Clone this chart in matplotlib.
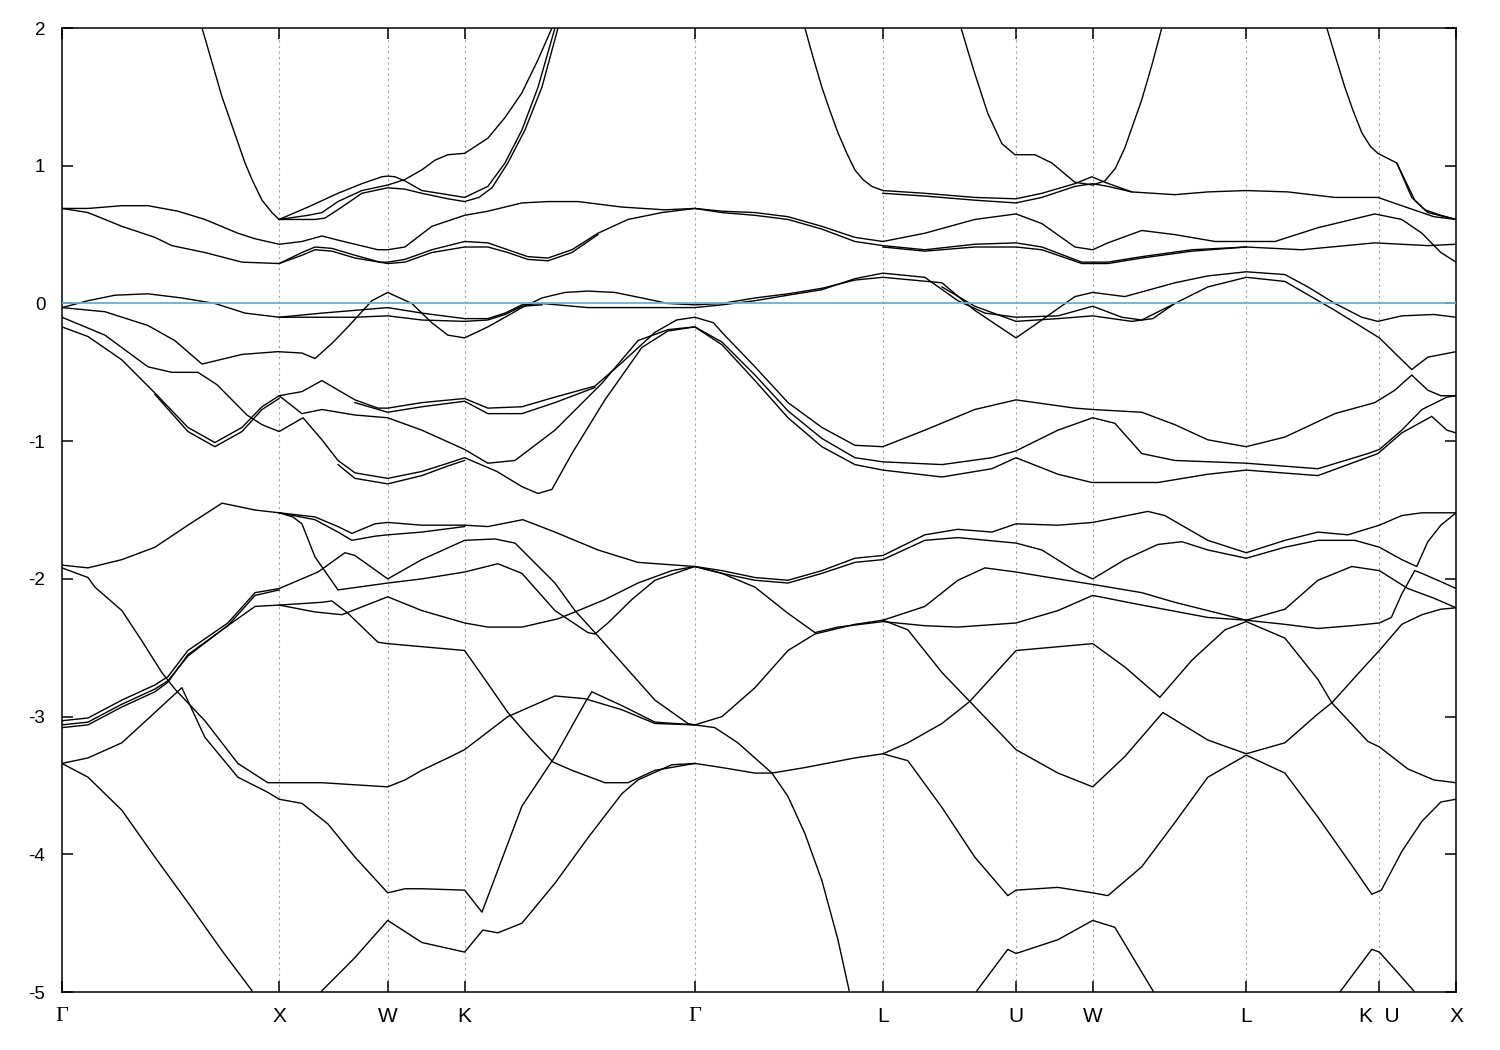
import matplotlib
matplotlib.use("Agg")
import matplotlib.pyplot as plt

plt.rcParams['font.family'] = ['Liberation Sans', 'DejaVu Sans']
plt.rcParams['axes.unicode_minus'] = False

# high symmetry points along the fcc path (units of 2pi/a)
kpath_labels = ['Γ', 'X', 'W', 'K', 'Γ', 'L', 'U', 'W', 'L', 'K  U', 'X']
kpath_pos = [0.0, 1.0, 1.5, 1.854, 2.914, 3.78, 4.393, 4.746, 5.453, 6.066, 6.419]
e_ticks = [2, 1, 0, -1, -2, -3, -4, -5]

# bands as (k, E) points, E in eV
cond_bands = [
    [(0.645, 2.0), (0.691, 1.75), (0.737, 1.5), (0.843, 1.02), (0.875, 0.90), (0.921, 0.75), (0.967, 0.66),
     (1.0, 0.61), (1.133, 0.70), (1.271, 0.80), (1.381, 0.87), (1.473, 0.92), (1.5, 0.925), (1.533, 0.92),
     (1.579, 0.89), (1.657, 0.82), (1.777, 0.79), (1.854, 0.77), (1.961, 0.85), (2.040, 1.02), (2.118, 1.26),
     (2.192, 1.57), (2.27, 2.0)],
    [(1.0, 0.61), (1.133, 0.64), (1.197, 0.66), (1.271, 0.74), (1.381, 0.82), (1.5, 0.86), (1.579, 0.90),
     (1.657, 0.97), (1.717, 1.04), (1.777, 1.08), (1.854, 1.09), (1.961, 1.20), (2.040, 1.35), (2.118, 1.53),
     (2.192, 1.77), (2.256, 2.0)],
    [(1.0, 0.61), (1.165, 0.61), (1.211, 0.62), (1.289, 0.70), (1.381, 0.80), (1.5, 0.84), (1.579, 0.83),
     (1.657, 0.80), (1.777, 0.76), (1.854, 0.74), (1.920, 0.77), (1.980, 0.84), (2.053, 1.02), (2.132, 1.26),
     (2.210, 1.57), (2.284, 2.0)],
    [(3.421, 2.0), (3.458, 1.79), (3.499, 1.57), (3.536, 1.40), (3.573, 1.24), (3.614, 1.09), (3.651, 0.97),
     (3.688, 0.90), (3.729, 0.85), (3.78, 0.82), (3.973, 0.80), (4.203, 0.77), (4.393, 0.76), (4.512, 0.80),
     (4.664, 0.87), (4.742, 0.92), (4.802, 0.88), (4.926, 0.81), (5.124, 0.79), (5.276, 0.81), (5.453, 0.82),
     (5.645, 0.81), (5.861, 0.77), (6.059, 0.77), (6.169, 0.71), (6.317, 0.63), (6.419, 0.61)],
    [(3.78, 0.80), (3.973, 0.78), (4.203, 0.75), (4.393, 0.73), (4.512, 0.77), (4.664, 0.85), (4.746, 0.87),
     (4.816, 0.85), (4.926, 0.81)],
    [(4.14, 2.0), (4.172, 1.83), (4.203, 1.67), (4.263, 1.38), (4.328, 1.16), (4.388, 1.08), (4.480, 1.08),
     (4.558, 1.02), (4.664, 0.88), (4.746, 0.86), (4.802, 0.89), (4.850, 0.98), (4.894, 1.13), (4.972, 1.48),
     (5.020, 1.74), (5.064, 2.0)],
    [(5.824, 2.0), (5.866, 1.78), (5.907, 1.57), (5.945, 1.40), (5.985, 1.24), (6.025, 1.14), (6.059, 1.09),
     (6.146, 1.02), (6.215, 0.77), (6.275, 0.68), (6.350, 0.64), (6.419, 0.61)],
    [(6.146, 1.02), (6.229, 0.75), (6.289, 0.66), (6.419, 0.61)],
]

upper_bands = [
    [(0, 0.69), (0.12, 0.69), (0.276, 0.71), (0.396, 0.71), (0.534, 0.67), (0.658, 0.61), (0.810, 0.51),
     (0.889, 0.47), (1.0, 0.43), (1.105, 0.45), (1.197, 0.49), (1.271, 0.46), (1.455, 0.39), (1.5, 0.39),
     (1.579, 0.41), (1.703, 0.56), (1.854, 0.64), (1.961, 0.67), (2.118, 0.73), (2.238, 0.74), (2.376, 0.74),
     (2.578, 0.70), (2.776, 0.68), (2.914, 0.69), (3.039, 0.67), (3.191, 0.66), (3.343, 0.63), (3.499, 0.56),
     (3.651, 0.48), (3.78, 0.45), (3.973, 0.51), (4.203, 0.61), (4.393, 0.65), (4.512, 0.58), (4.664, 0.41),
     (4.746, 0.39), (4.816, 0.44), (4.972, 0.53), (5.124, 0.50), (5.309, 0.45), (5.453, 0.45), (5.585, 0.45),
     (5.783, 0.55), (6.045, 0.65), (6.169, 0.61), (6.262, 0.51), (6.349, 0.37), (6.419, 0.30)],
    [(0, 0.69), (0.12, 0.66), (0.276, 0.56), (0.428, 0.48), (0.506, 0.42), (0.658, 0.37), (0.829, 0.30),
     (1.0, 0.29), (1.105, 0.37), (1.165, 0.41), (1.243, 0.40), (1.349, 0.35), (1.464, 0.30), (1.5, 0.30),
     (1.579, 0.32), (1.703, 0.39), (1.854, 0.45), (1.961, 0.44), (2.053, 0.39), (2.145, 0.34), (2.238, 0.33),
     (2.348, 0.39), (2.468, 0.51), (2.606, 0.61), (2.762, 0.66), (2.914, 0.69), (3.039, 0.66), (3.191, 0.64),
     (3.343, 0.61), (3.499, 0.54), (3.651, 0.45), (3.78, 0.42), (3.973, 0.39), (4.203, 0.43), (4.393, 0.44),
     (4.512, 0.41), (4.696, 0.30), (4.816, 0.30), (4.972, 0.34), (5.203, 0.39), (5.453, 0.41), (5.709, 0.39),
     (6.045, 0.44), (6.289, 0.42), (6.419, 0.43)],
    [(1.0, 0.29), (1.105, 0.35), (1.165, 0.39), (1.243, 0.38), (1.349, 0.33), (1.5, 0.29), (1.579, 0.30),
     (1.703, 0.37), (1.854, 0.41), (1.961, 0.41), (2.053, 0.37), (2.145, 0.32), (2.238, 0.31), (2.348, 0.37),
     (2.468, 0.50)],
    [(3.78, 0.41), (3.973, 0.38), (4.203, 0.41), (4.393, 0.41), (4.512, 0.39), (4.696, 0.29), (4.816, 0.29),
     (4.972, 0.33), (5.203, 0.38), (5.453, 0.41)],
]

fermi_bands = [
    [(0, -0.03), (0.12, 0.02), (0.244, 0.06), (0.396, 0.07), (0.552, 0.04), (0.704, 0.0), (0.843, -0.07),
     (1.0, -0.10), (1.197, -0.07), (1.349, -0.05), (1.5, -0.03), (1.657, -0.07), (1.854, -0.11), (1.961, -0.11),
     (2.040, -0.07), (2.118, -0.01), (2.210, 0.0), (2.422, -0.03), (2.652, -0.03), (2.914, -0.03), (3.039, -0.01),
     (3.191, 0.02), (3.343, 0.06), (3.499, 0.10), (3.651, 0.18), (3.78, 0.22), (3.973, 0.19), (4.125, 0.02),
     (4.250, -0.07), (4.393, -0.10), (4.586, -0.09), (4.746, -0.02), (4.880, -0.10), (4.972, -0.12), (5.124, 0.0),
     (5.276, 0.12), (5.453, 0.19), (5.631, 0.16), (5.861, -0.05), (6.066, -0.25), (6.215, -0.48), (6.289, -0.39),
     (6.419, -0.35)],
    [(0, -0.03), (0.198, -0.06), (0.396, -0.16), (0.520, -0.27), (0.645, -0.44), (0.829, -0.37), (0.994, -0.35),
     (1.105, -0.36), (1.165, -0.40), (1.243, -0.29), (1.317, -0.17), (1.427, 0.02), (1.5, 0.08), (1.611, 0.0),
     (1.703, -0.14), (1.777, -0.23), (1.854, -0.25), (1.961, -0.17), (2.040, -0.10), (2.118, -0.03), (2.210, 0.04),
     (2.316, 0.08), (2.422, 0.09), (2.546, 0.08), (2.670, 0.04), (2.790, 0.0), (2.914, -0.01), (3.039, 0.0),
     (3.191, 0.04), (3.343, 0.07), (3.499, 0.11), (3.651, 0.17), (3.78, 0.19), (4.052, 0.15), (4.203, -0.05),
     (4.393, -0.25), (4.512, -0.12), (4.664, 0.05), (4.746, 0.08), (4.894, 0.05), (5.124, 0.15), (5.276, 0.20),
     (5.453, 0.23), (5.631, 0.21), (5.737, 0.12), (5.861, 0.0), (5.985, -0.10), (6.059, -0.13), (6.169, -0.09),
     (6.317, -0.08), (6.419, -0.10)],
    [(1.0, -0.10), (1.165, -0.10), (1.349, -0.10), (1.5, -0.09), (1.657, -0.12), (1.854, -0.13), (1.961, -0.12),
     (2.040, -0.08), (2.118, -0.02), (2.210, -0.01)],
    [(4.052, 0.12), (4.203, -0.02), (4.393, -0.13), (4.586, -0.11), (4.746, -0.09), (4.926, -0.13),
     (5.023, -0.11), (5.124, 0.0)],
]

mid_bands = [
    [(0, -0.10), (0.198, -0.23), (0.396, -0.46), (0.506, -0.50), (0.626, -0.50), (0.714, -0.59), (0.852, -0.81),
     (0.921, -0.88), (1.0, -0.93), (1.11, -0.83), (1.197, -0.99), (1.271, -1.14), (1.349, -1.23), (1.5, -1.27),
     (1.657, -1.22), (1.777, -1.16), (1.854, -1.12), (2.003, -1.22), (2.118, -1.33), (2.192, -1.38), (2.256, -1.35),
     (2.348, -1.09), (2.500, -0.70), (2.670, -0.32), (2.790, -0.20), (2.914, -0.17), (3.039, -0.30), (3.191, -0.56),
     (3.343, -0.83), (3.499, -1.04), (3.651, -1.17), (3.78, -1.21), (4.052, -1.26), (4.282, -1.20), (4.393, -1.12),
     (4.586, -1.24), (4.742, -1.30), (5.046, -1.30), (5.276, -1.24), (5.453, -1.21), (5.783, -1.25), (6.059, -1.09),
     (6.169, -0.94), (6.307, -0.82), (6.377, -0.92), (6.419, -0.94)],
    [(1.271, -1.17), (1.349, -1.27), (1.5, -1.31), (1.657, -1.25), (1.777, -1.18), (1.854, -1.14)],
    [(0, -0.17), (0.12, -0.24), (0.276, -0.41), (0.428, -0.65), (0.580, -0.90), (0.704, -1.01), (0.829, -0.90),
     (0.921, -0.75), (1.0, -0.67), (1.105, -0.64), (1.197, -0.56), (1.349, -0.70), (1.455, -0.76), (1.5, -0.76),
     (1.657, -0.72), (1.854, -0.69), (1.961, -0.76), (2.118, -0.75), (2.270, -0.68), (2.454, -0.60), (2.578, -0.43),
     (2.730, -0.21), (2.830, -0.12), (2.914, -0.10), (3.000, -0.14), (3.039, -0.21), (3.191, -0.46), (3.343, -0.72),
     (3.499, -0.90), (3.651, -1.03), (3.78, -1.04), (3.973, -0.92), (4.203, -0.77), (4.393, -0.70), (4.664, -0.76),
     (4.746, -0.77), (4.972, -0.79), (5.124, -0.88), (5.276, -0.99), (5.453, -1.04), (5.631, -0.97), (5.861, -0.80),
     (6.045, -0.72), (6.137, -0.63), (6.215, -0.52), (6.289, -0.63), (6.349, -0.67), (6.419, -0.67)],
    [(0.428, -0.66), (0.580, -0.93), (0.704, -1.04), (0.829, -0.93), (0.921, -0.77), (1.0, -0.69)],
    [(1.349, -0.72), (1.5, -0.79), (1.657, -0.75), (1.854, -0.71), (1.961, -0.80), (2.118, -0.80), (2.270, -0.72),
     (2.454, -0.61)],
    [(1.0, -0.67), (1.105, -0.80), (1.197, -0.77), (1.349, -0.81), (1.5, -0.83), (1.657, -0.92), (1.854, -1.06),
     (1.961, -1.16), (2.086, -1.14), (2.270, -0.92), (2.486, -0.58), (2.652, -0.27), (2.790, -0.19), (2.914, -0.17),
     (3.039, -0.28), (3.191, -0.52), (3.343, -0.78), (3.499, -0.98), (3.651, -1.12), (3.78, -1.15), (4.052, -1.17),
     (4.282, -1.12), (4.393, -1.07), (4.586, -0.92), (4.746, -0.83), (4.848, -0.87), (4.972, -1.09), (5.124, -1.14),
     (5.453, -1.16), (5.783, -1.20), (6.013, -1.09), (6.066, -1.06), (6.169, -0.92), (6.262, -0.77), (6.377, -0.68),
     (6.419, -0.67)],
]

low_bands = [
    [(0, -1.90), (0.12, -1.92), (0.276, -1.86), (0.428, -1.77), (0.580, -1.61), (0.737, -1.45), (0.889, -1.50),
     (1.0, -1.52), (1.165, -1.55), (1.271, -1.62), (1.335, -1.67), (1.441, -1.60), (1.5, -1.59), (1.657, -1.61),
     (1.854, -1.61), (1.961, -1.62), (2.122, -1.57), (2.270, -1.66), (2.468, -1.79), (2.652, -1.88), (2.914, -1.91),
     (3.039, -1.94), (3.191, -1.99), (3.343, -2.01), (3.499, -1.94), (3.651, -1.85), (3.78, -1.83), (3.973, -1.68),
     (4.125, -1.64), (4.282, -1.66), (4.393, -1.60), (4.586, -1.61), (4.746, -1.59), (5.0, -1.51), (5.078, -1.54),
     (5.276, -1.72), (5.453, -1.81), (5.631, -1.72), (5.783, -1.66), (5.921, -1.68), (6.066, -1.61), (6.169, -1.54),
     (6.262, -1.52), (6.419, -1.52)],
    [(1.0, -1.52), (1.165, -1.57), (1.271, -1.66), (1.335, -1.72), (1.441, -1.69), (1.5, -1.68), (1.657, -1.66),
     (1.854, -1.62)],
    [(1.0, -1.52), (1.063, -1.55), (1.105, -1.60), (1.165, -1.84), (1.271, -2.08), (1.5, -2.03), (1.657, -2.00),
     (1.854, -1.95), (2.007, -1.89), (2.118, -1.96), (2.270, -2.23), (2.422, -2.39), (2.454, -2.40), (2.514, -2.32),
     (2.624, -2.15), (2.730, -2.01), (2.914, -1.91), (3.039, -1.96), (3.191, -2.01), (3.343, -2.03), (3.499, -1.96),
     (3.651, -1.88), (3.78, -1.86), (3.973, -1.72), (4.125, -1.70), (4.393, -1.74), (4.512, -1.79), (4.664, -1.94),
     (4.746, -2.00), (4.894, -1.86), (5.046, -1.75), (5.157, -1.73), (5.276, -1.79), (5.453, -1.85), (5.631, -1.77),
     (5.783, -1.72), (5.953, -1.72), (6.066, -1.77), (6.169, -1.86), (6.238, -1.91), (6.289, -1.73), (6.349, -1.61),
     (6.419, -1.52)],
    [(0, -3.03), (0.12, -3.01), (0.276, -2.88), (0.428, -2.77), (0.488, -2.71), (0.580, -2.52), (0.764, -2.32),
     (0.889, -2.10), (1.0, -2.07), (1.179, -1.95), (1.303, -1.81), (1.349, -1.83), (1.5, -2.00), (1.657, -1.86),
     (1.854, -1.72), (1.994, -1.71), (2.086, -1.74), (2.270, -2.03), (2.362, -2.23), (2.454, -2.39), (2.578, -2.61),
     (2.730, -2.88), (2.882, -3.05), (2.914, -3.06), (3.039, -3.00), (3.191, -2.79), (3.343, -2.52), (3.467, -2.40),
     (3.651, -2.33), (3.78, -2.30), (3.973, -2.20), (4.125, -2.01), (4.250, -1.92), (4.393, -1.95), (4.586, -2.00),
     (4.746, -2.04), (4.972, -2.10), (5.124, -2.17), (5.453, -2.30), (5.631, -2.22), (5.783, -2.01), (5.939, -1.91),
     (6.066, -1.94), (6.197, -2.07), (6.317, -2.14), (6.419, -2.21)],
    [(0, -3.06), (0.12, -3.04), (0.276, -2.91), (0.428, -2.80), (0.488, -2.74), (0.580, -2.56), (0.737, -2.37),
     (0.889, -2.20), (1.0, -2.19), (1.165, -2.24), (1.289, -2.26), (1.5, -2.13), (1.657, -2.23), (1.854, -2.32),
     (1.961, -2.35), (2.118, -2.35), (2.284, -2.29), (2.362, -2.24), (2.500, -2.15), (2.652, -2.03), (2.808, -1.94),
     (2.914, -1.91), (3.039, -1.96), (3.191, -2.06), (3.343, -2.25), (3.467, -2.39), (3.573, -2.35), (3.78, -2.31),
     (3.973, -2.34), (4.125, -2.35), (4.393, -2.32), (4.586, -2.23), (4.746, -2.12), (4.972, -2.19), (5.276, -2.28),
     (5.453, -2.30), (5.631, -2.33), (5.783, -2.36), (5.939, -2.34), (6.066, -2.32), (6.121, -2.28), (6.169, -2.11),
     (6.229, -1.94), (6.262, -1.96), (6.349, -2.02), (6.419, -2.07)],
    [(0, -3.08), (0.12, -3.06), (0.276, -2.93), (0.428, -2.82), (0.488, -2.75), (0.580, -2.55), (0.764, -2.34),
     (0.889, -2.12), (1.0, -2.08)],
    [(1.0, -2.19), (1.197, -2.17), (1.243, -2.16), (1.317, -2.25), (1.455, -2.46), (1.5, -2.47), (1.854, -2.52),
     (1.961, -2.76), (2.053, -2.97), (2.164, -3.17), (2.261, -3.33), (2.348, -3.39), (2.500, -3.48), (2.606, -3.48),
     (2.730, -3.39), (2.914, -3.34), (3.039, -3.37), (3.191, -3.41), (3.269, -3.41), (3.421, -3.37), (3.651, -3.30),
     (3.78, -3.27), (3.895, -3.19), (4.052, -3.05), (4.180, -2.89), (4.393, -2.52), (4.746, -2.47), (4.894, -2.64),
     (5.055, -2.86), (5.203, -2.59), (5.355, -2.37), (5.453, -2.31), (5.631, -2.43), (5.783, -2.73), (5.847, -2.90),
     (6.013, -3.18), (6.066, -3.22), (6.197, -3.38), (6.317, -3.46), (6.419, -3.48)],
    [(3.78, -2.30), (3.895, -2.37), (4.052, -2.68), (4.180, -2.89), (4.393, -3.24), (4.586, -3.41), (4.746, -3.51),
     (4.894, -3.29), (5.069, -2.97), (5.276, -3.17), (5.453, -3.27), (5.631, -3.19), (5.783, -2.98), (5.847, -2.90),
     (6.013, -2.61), (6.066, -2.52), (6.169, -2.33), (6.262, -2.26), (6.349, -2.22), (6.419, -2.21)],
]

deep_bands = [
    [(0, -1.92), (0.12, -1.99), (0.152, -2.06), (0.276, -2.23), (0.368, -2.45), (0.460, -2.68), (0.520, -2.80),
     (0.658, -3.03), (0.810, -3.34), (0.948, -3.48), (1.0, -3.48), (1.197, -3.48), (1.5, -3.51), (1.579, -3.46),
     (1.657, -3.39), (1.777, -3.30), (1.854, -3.24), (2.053, -3.00), (2.270, -2.85), (2.408, -2.87), (2.578, -2.95),
     (2.730, -3.05), (2.914, -3.06), (3.006, -3.08), (3.112, -3.19), (3.269, -3.41), (3.343, -3.58), (3.421, -3.85),
     (3.499, -4.19), (3.573, -4.62), (3.640, -5.1)],
    [(0, -3.34), (0.12, -3.30), (0.276, -3.19), (0.428, -2.97), (0.552, -2.79), (0.658, -3.15), (0.810, -3.44),
     (0.948, -3.55), (1.0, -3.60), (1.105, -3.63), (1.225, -3.78), (1.349, -4.02), (1.5, -4.28), (1.579, -4.25),
     (1.657, -4.25), (1.854, -4.26), (1.934, -4.42), (2.118, -3.65), (2.270, -3.29), (2.408, -2.90), (2.440, -2.82),
     (2.578, -2.92), (2.730, -3.04), (2.914, -3.06)],
    [(0, -3.34), (0.12, -3.44), (0.276, -3.68), (0.428, -4.02), (0.580, -4.35), (0.737, -4.70), (0.875, -4.99),
     (0.90, -5.1)],
    [(1.17, -5.1), (1.197, -4.99), (1.349, -4.75), (1.5, -4.48), (1.657, -4.64), (1.854, -4.71), (1.938, -4.55),
     (2.007, -4.57), (2.118, -4.50), (2.270, -4.21), (2.422, -3.88), (2.578, -3.56), (2.652, -3.46), (2.808, -3.35),
     (2.914, -3.34)],
    [(4.20, -5.1), (4.213, -4.99), (4.355, -4.69), (4.393, -4.72), (4.586, -4.62), (4.746, -4.48), (4.848, -4.53),
     (5.023, -4.99), (5.04, -5.1)],
    [(5.86, -5.1), (5.884, -5.0), (6.031, -4.69), (6.066, -4.71), (6.151, -4.86), (6.229, -5.0), (6.24, -5.1)],
    [(3.78, -3.27), (3.895, -3.32), (4.052, -3.66), (4.203, -4.02), (4.355, -4.30), (4.393, -4.26), (4.586, -4.24),
     (4.746, -4.28), (4.816, -4.30), (4.972, -4.09), (5.124, -3.77), (5.276, -3.44), (5.453, -3.28), (5.631, -3.41),
     (5.783, -3.73), (5.939, -4.08), (6.031, -4.29), (6.075, -4.26), (6.169, -3.98), (6.262, -3.76), (6.349, -3.62),
     (6.419, -3.60)],
]


fig = plt.figure(figsize=(15, 10.5), dpi=100)
ax = fig.add_axes([0.0413, 0.0552, 0.9294, 0.9181])

for group in [cond_bands, upper_bands, fermi_bands, mid_bands, low_bands, deep_bands]:
    for band in group:
        ks = [p[0] for p in band]
        es = [p[1] for p in band]
        ax.plot(ks, es, color='black', lw=1.0, zorder=2, solid_joinstyle='round')

for kp in kpath_pos[1:-1]:
    ax.axvline(kp, color='#a0a0a0', lw=0.8, linestyle=(0, (2, 3)), zorder=1)

ax.axhline(0, color='#56b4e9', lw=1.3, zorder=3)

ax.set_xlim(kpath_pos[0], kpath_pos[-1])
ax.set_ylim(-5, 2)
ax.set_xticks(kpath_pos)
ax.set_xticklabels(kpath_labels, fontsize=15)
ax.set_yticks(e_ticks)
ax.set_yticklabels([str(t) for t in e_ticks], fontsize=13.5)
ax.tick_params(direction='in', length=8, width=1.1, top=True, right=True)
ax.tick_params(axis='y', pad=12)
ax.tick_params(axis='x', pad=11)
for lbl in ax.get_xticklabels():
    if lbl.get_text() == 'Γ':
        lbl.set_fontfamily('Liberation Serif')
        lbl.set_fontsize(16)
for sp in ax.spines.values():
    sp.set_linewidth(1.1)

plt.savefig('out.png', dpi=100)
